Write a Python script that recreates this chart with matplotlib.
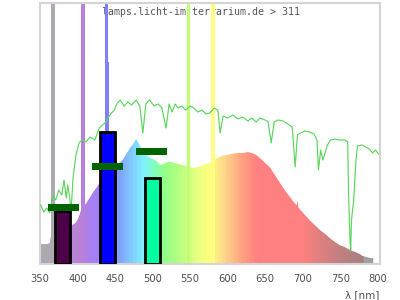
import numpy as np
import matplotlib
matplotlib.use("Agg")
import matplotlib.pyplot as plt
from matplotlib.colors import LinearSegmentedColormap

# ---- data (y in relative units) ----
spec_nm = [350, 360, 363, 364, 368, 372, 380, 390, 393, 397, 400, 403, 406, 411, 416, 421,
           426, 430, 440, 452, 456, 460, 465, 470, 475, 478, 482, 486, 490, 495, 500, 505,
           510, 515, 520, 525, 530, 535, 540, 545, 550, 555, 560, 565, 570, 576, 580, 586,
           592, 599, 606, 612, 620, 627, 632, 638, 643, 650, 656, 662, 669, 676, 683, 690,
           692, 693, 694, 696, 703, 709, 716, 723, 730, 736, 743, 749, 756, 763, 770, 776,
           780, 785, 790, 794]
spec_val = [20, 20, 21, 27, 29, 31, 34, 37, 39, 41, 44, 50, 57, 60, 66, 72,
            77, 82, 90, 97, 101, 104, 110, 116, 121, 125, 120, 114, 110, 107, 105, 103,
            99, 100, 102, 102, 101, 100, 99, 98, 97, 96, 97, 98, 100, 101, 104, 106,
            108, 109, 110, 111, 111, 112, 111, 109, 106, 101, 97, 90, 82, 74, 67, 60,
            59, 64, 57, 55, 49, 44, 39, 34, 30, 26, 22, 19, 17, 14, 12, 10,
            8, 7, 6, 6]

ref_nm = [351, 355, 359, 363, 367, 371, 375, 379, 382, 385, 387, 390, 391, 394, 398, 402,
          406, 411, 417, 423, 429, 433, 438, 443, 449, 453, 457, 462, 467, 472, 478, 483,
          487, 491, 496, 502, 507, 512, 518, 522, 526, 530, 534, 539, 544, 550, 555, 560,
          566, 571, 576, 582, 587, 590, 594, 600, 607, 614, 620, 627, 632, 638, 643, 650,
          654, 658, 662, 667, 674, 680, 686, 690, 693, 697, 703, 709, 715, 719, 721, 724,
          727, 731, 733, 737, 743, 749, 756, 760, 761, 763, 764, 765, 768, 771, 773, 779,
          784, 789, 793, 797, 801]
ref_val = [59, 52, 56, 51, 68, 64, 74, 69, 84, 66, 79, 64, 47, 86, 109, 121,
           124, 122, 127, 124, 136, 139, 142, 149, 154, 161, 164, 158, 162, 159, 164, 158,
           131, 160, 164, 158, 160, 157, 136, 160, 152, 160, 156, 158, 154, 158, 156, 152,
           154, 150, 151, 156, 154, 131, 148, 146, 149, 145, 147, 143, 146, 142, 146, 144,
           142, 121, 142, 144, 143, 140, 137, 97, 129, 131, 133, 132, 130, 124, 94, 114,
           104, 114, 119, 124, 125, 124, 124, 122, 74, 24, 14, 44, 64, 104, 118, 119,
           117, 115, 111, 114, 110]

line_nm = [365, 405, 436, 546, 578]
line_shoulder = [197, 175, 202, 0, 0]

bar_lo = [370, 430, 490]
bar_hi = [390, 450, 510]
bar_val = [53, 132, 86]

mark_lo = [361, 419, 478]
mark_hi = [402, 460, 519]
mark_val = [56.5, 98, 113]

ticks = [350, 400, 450, 500, 550, 600, 650, 700, 750, 800]

# ---- styling ----
XMIN, XMAX, YMAX = 350, 803, 261
stops = [(350, '#aea8b0'), (380, '#aea8b0'), (392, '#b886d4'), (405, '#b880d8'),
         (418, '#a880f4'), (428, '#a080ff'), (455, '#80a0ff'), (470, '#80c8ff'),
         (488, '#80f2ff'), (503, '#80ffb8'), (515, '#90ff88'), (540, '#c0ff80'),
         (560, '#e8ff80'), (575, '#ffff80'), (592, '#ffe088'), (606, '#ffc088'),
         (620, '#ffa080'), (640, '#ff8080'), (700, '#ff8080'), (730, '#d88080'),
         (760, '#b88080'), (781, '#a88080'), (783, '#a0a0a0'), (803, '#a0a0a0')]
cmap = LinearSegmentedColormap.from_list(
    'spec', [((s - XMIN) / (XMAX - XMIN), c) for s, c in stops])
line_colors = ['#aea8b0', '#b880d8', '#8080ff', '#c0ff70', '#ffff80']
bar_colors = ['#4b0048', '#0000ff', '#00ffa0']

fig = plt.figure(figsize=(4, 3), dpi=100)
ax = fig.add_axes([0.1, 0.12, 0.85, 0.87])

poly = ax.fill_between(spec_nm, spec_val, 0, facecolor='none', edgecolor='none')
grad = np.linspace(0, 1, 906).reshape(1, -1)
im = ax.imshow(grad, extent=[XMIN, XMAX, 0, YMAX], aspect='auto', cmap=cmap,
               origin='lower', interpolation='nearest', zorder=1)
im.set_clip_path(poly.get_paths()[0], transform=ax.transData)

for nm, sh, c in zip(line_nm, line_shoulder, line_colors):
    ax.bar(nm, 400, width=4.5, align='edge', color=c, zorder=2, linewidth=0)
    if sh:
        ax.bar(nm, sh, width=5.5, align='edge', color=c, zorder=2, linewidth=0)

ax.text(0.474, 0.966, 'lamps.licht-im-terrarium.de > 311', transform=ax.transAxes,
        ha='center', va='center', fontsize=7.1, family='DejaVu Sans Mono',
        color='#555555', zorder=1.5)

ax.plot(ref_nm, ref_val, color='#5cd65c', lw=0.85, zorder=3)

for lo, hi, v, c in zip(bar_lo, bar_hi, bar_val, bar_colors):
    ax.bar(lo, v, width=hi - lo, align='edge', color=c, edgecolor='black',
           linewidth=2, zorder=4)

for lo, hi, v in zip(mark_lo, mark_hi, mark_val):
    ax.bar(lo, 7, bottom=v - 3.5, width=hi - lo, align='edge', color='#006400',
           linewidth=0, zorder=5)

ax.set_xlim(XMIN, XMAX)
ax.set_ylim(0, YMAX)
ax.set_xticks(ticks)
ax.set_xticklabels([str(t) for t in ticks])
ax.set_yticks([])
ax.tick_params(axis='x', length=0, pad=7, labelsize=7.2, labelcolor='#505050')
for s in ax.spines.values():
    s.set_color('#d4d4d4')
    s.set_linewidth(1.5)

fig.text(0.9475, 1 - 295 / 300, 'λ [nm]', ha='right', va='center', fontsize=7.5,
         color='#505050')

fig.savefig('out.png', dpi=100)
